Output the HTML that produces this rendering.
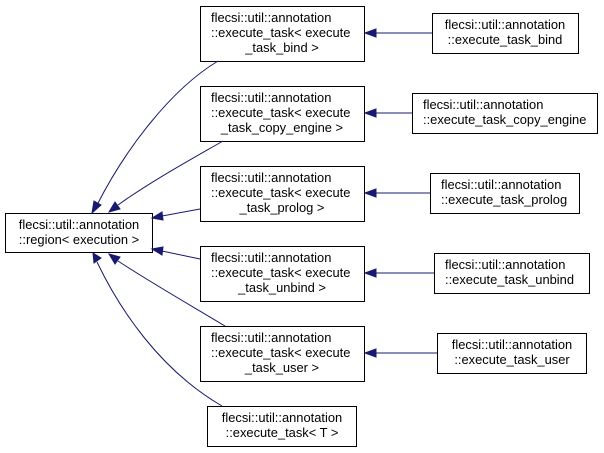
<!DOCTYPE html>
<html><head><meta charset="utf-8"><style>
html,body{margin:0;padding:0;background:#fff;}
svg{display:block;font-family:"Liberation Sans",Arial,sans-serif;font-size:12.9px;}
</style></head><body>
<svg width="604" height="453" viewBox="0 0 604 453">
<g fill="#fff" stroke="#000" stroke-width="1">
<rect x="5.5" y="213.5" width="147" height="39"/>
<rect x="200.5" y="6.5" width="164" height="55"/>
<rect x="200.5" y="86.5" width="164" height="55"/>
<rect x="200.5" y="166.5" width="164" height="55"/>
<rect x="200.5" y="246.5" width="164" height="55"/>
<rect x="200.5" y="326.5" width="164" height="55"/>
<rect x="207.5" y="406.5" width="149" height="40"/>
<rect x="432.5" y="13.5" width="146" height="40"/>
<rect x="412.5" y="93.5" width="185" height="40"/>
<rect x="430.5" y="173.5" width="149" height="40"/>
<rect x="434.5" y="253.5" width="155" height="40"/>
<rect x="437.5" y="333.5" width="149" height="40"/>
</g>
<g fill="none" stroke="#191970" stroke-width="1">
<path d="M218,61 C170,90 125,150 97,205"/>
<path d="M223,141 C190,160 150,182 118,205"/>
<path d="M200,209 L162,216"/>
<path d="M200,259 L162,251"/>
<path d="M225,326 C190,305 150,282 118,261"/>
<path d="M222,406 C160,370 120,310 97,262"/>
<path d="M432,33 L376,33"/>
<path d="M412,113 L376,113"/>
<path d="M430,193 L376,193"/>
<path d="M434,273 L376,273"/>
<path d="M437,353 L376,353"/>
</g>
<g fill="#191970" stroke="#191970">
<polygon points="92,213 94,201 101,205"/>
<polygon points="109,212 115,202 120,209"/>
<polygon points="152,218 162,212 163,220"/>
<polygon points="152,249 163,247 162,255"/>
<polygon points="109,254 120,257 115,264"/>
<polygon points="93,253 101,258 94,263"/>
<polygon points="365,33 376,29 376,37"/>
<polygon points="365,113 376,109 376,117"/>
<polygon points="365,193 376,189 376,197"/>
<polygon points="365,273 376,269 376,277"/>
<polygon points="365,353 376,349 376,357"/>
</g>
<g fill="#000">
<text x="79" y="229" text-anchor="middle">flecsi::util::annotation</text>
<text x="79" y="244" text-anchor="middle">::region&lt; execution &gt;</text>
<text x="211" y="22">flecsi::util::annotation</text>
<text x="211" y="37">::execute_task&lt; execute</text>
<text x="282" y="52" text-anchor="middle">_task_bind &gt;</text>
<text x="211" y="102">flecsi::util::annotation</text>
<text x="211" y="117">::execute_task&lt; execute</text>
<text x="282" y="132" text-anchor="middle">_task_copy_engine &gt;</text>
<text x="211" y="182">flecsi::util::annotation</text>
<text x="211" y="197">::execute_task&lt; execute</text>
<text x="282" y="212" text-anchor="middle">_task_prolog &gt;</text>
<text x="211" y="262">flecsi::util::annotation</text>
<text x="211" y="277">::execute_task&lt; execute</text>
<text x="282" y="292" text-anchor="middle">_task_unbind &gt;</text>
<text x="211" y="342">flecsi::util::annotation</text>
<text x="211" y="357">::execute_task&lt; execute</text>
<text x="282" y="372" text-anchor="middle">_task_user &gt;</text>
<text x="282" y="422" text-anchor="middle">flecsi::util::annotation</text>
<text x="282" y="437" text-anchor="middle">::execute_task&lt; T &gt;</text>
<text x="505" y="29" text-anchor="middle">flecsi::util::annotation</text>
<text x="505" y="44" text-anchor="middle">::execute_task_bind</text>
<text x="423" y="109">flecsi::util::annotation</text>
<text x="423" y="124">::execute_task_copy_engine</text>
<text x="441" y="189">flecsi::util::annotation</text>
<text x="441" y="204">::execute_task_prolog</text>
<text x="445" y="269">flecsi::util::annotation</text>
<text x="445" y="284">::execute_task_unbind</text>
<text x="512" y="349" text-anchor="middle">flecsi::util::annotation</text>
<text x="512" y="364" text-anchor="middle">::execute_task_user</text>
</g>
</svg>
</body></html>
